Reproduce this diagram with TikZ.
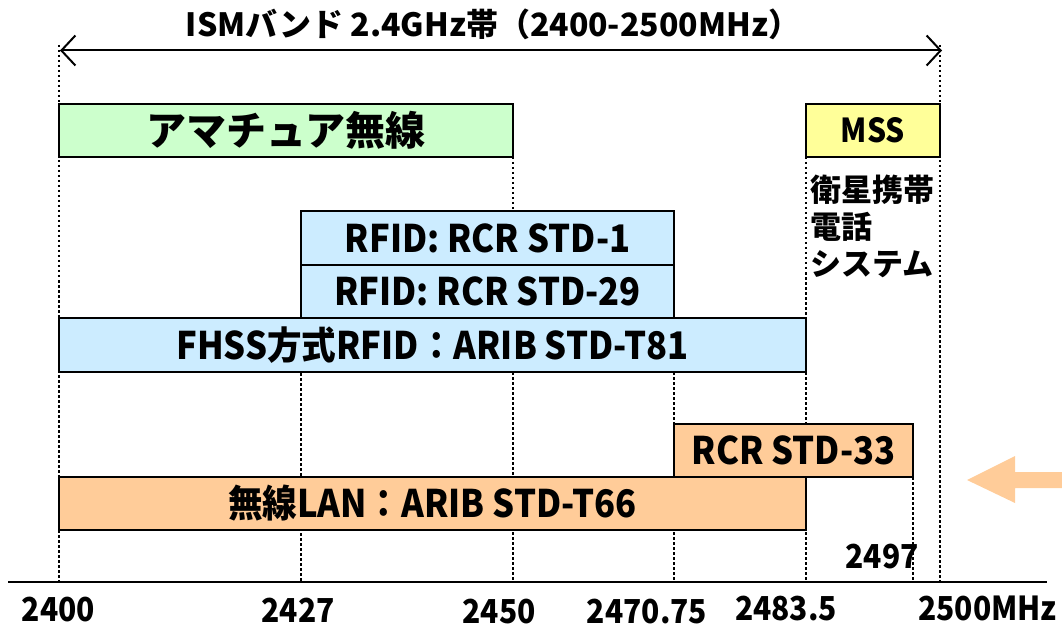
\documentclass[tikz,border=0pt]{standalone}
\usepackage{fontspec}
\setmainfont{Noto Sans CJK JP}
\newfontfamily\condfont{Noto Sans CJK JP}[FakeStretch=0.91]
\usetikzlibrary{arrows.meta}
\definecolor{hamgreen}{HTML}{CCFFCC}
\definecolor{mssyellow}{HTML}{FFFF99}
\definecolor{rfidblue}{HTML}{CCECFF}
\definecolor{lanorange}{HTML}{FFCC99}
\tikzset{
  bandbox/.style={draw=black, line width=2.2pt, inner sep=0pt, font=\condfont\fontsize{38}{42}\selectfont\bfseries},
  guide/.style={line width=2.6pt, dash pattern=on 2.5pt off 2.5pt},
  axislabel/.style={inner sep=0pt, font=\condfont\fontsize{33}{38}\selectfont\bfseries},
}
\begin{document}
\begin{tikzpicture}[x=1pt, y=-1pt]
\useasboundingbox (0,0) rectangle (1062,628);

% guide coordinates
\coordinate (a2400t) at (59,45);   \coordinate (a2400b) at (59,582);
\coordinate (a2427t) at (301,318); \coordinate (a2427b) at (301,582);
\coordinate (a2450t) at (513,157); \coordinate (a2450b) at (513,582);
\coordinate (a2470t) at (674,372); \coordinate (a2470b) at (674,582);
\coordinate (a2483t) at (806,157); \coordinate (a2483b) at (806,582);
\coordinate (a2497t) at (913,477); \coordinate (a2497b) at (913,582);
\coordinate (a2500t) at (940,45);  \coordinate (a2500b) at (940,582);

\foreach \g in {2400,2427,2450,2470,2483,2497,2500}
  \draw[guide] (a\g t) -- (a\g b);

% ISM band arrow and title
\coordinate (ismL) at (60,50.5);
\coordinate (ismR) at (942,50.5);
\draw[line width=2pt, {Straight Barb[length=14pt,width=30pt,line width=2pt]}-{Straight Barb[length=14pt,width=30pt,line width=2pt]}] (ismL) -- (ismR);
\node[inner sep=0pt, font=\fontsize{32}{36}\selectfont\bfseries] (title) at (493,24) {ISMバンド 2.4GHz帯（2400-2500MHz）};

% band boxes
\node[bandbox, fill=hamgreen, minimum width=454pt, minimum height=53pt, font=\normalfont\fontsize{40}{44}\selectfont\bfseries] (ham) at (286,130.5) {アマチュア無線};
\node[bandbox, fill=mssyellow, minimum width=134pt, minimum height=53pt, font=\condfont\fontsize{33}{36}\selectfont\bfseries] (mss) at (873,130.5) {MSS};
\node[inner sep=0pt, anchor=north west, align=left, font=\fontsize{31}{37}\selectfont\bfseries] (msstext) at (810,175) {衛星携帯\\電話\\システム};

\node[bandbox, fill=rfidblue, minimum width=373pt, minimum height=54pt] (rfid1) at (487.5,238) {RFID: RCR STD-1};
\node[bandbox, fill=rfidblue, minimum width=373pt, minimum height=53pt] (rfid29) at (487.5,291.5) {RFID: RCR STD-29};
\node[bandbox, fill=rfidblue, minimum width=747pt, minimum height=54pt] (fhss) at (432.5,345) {FHSS方式RFID：ARIB STD-T81};

\node[bandbox, fill=lanorange, minimum width=239pt, minimum height=53pt] (rcr33) at (793.5,450.5) {RCR STD-33};
\node[bandbox, fill=lanorange, minimum width=747pt, minimum height=53pt] (lan) at (432.5,503.5) {無線LAN：ARIB STD-T66};

% big left arrow
\fill[lanorange] (967,480) -- (1015,456) -- (1015,472) -- (1062,472) -- (1062,488) -- (1015,488) -- (1015,503) -- cycle;

% frequency axis
\coordinate (axL) at (8,582);
\coordinate (axR) at (1047,582);
\draw[line width=2.2pt] (axL) -- (axR);

\node[axislabel] (l2400) at (58.5,610) {2400};
\node[axislabel] (l2427) at (298,610) {2427};
\node[axislabel] (l2450) at (499,612) {2450};
\node[axislabel] (l2470) at (647,612) {2470.75};
\node[axislabel] (l2483) at (786,609) {2483.5};
\node[axislabel] (l2500) at (987.5,608) {2500MHz};
\node[axislabel] (l2497) at (882,557) {2497};
\end{tikzpicture}
\end{document}
